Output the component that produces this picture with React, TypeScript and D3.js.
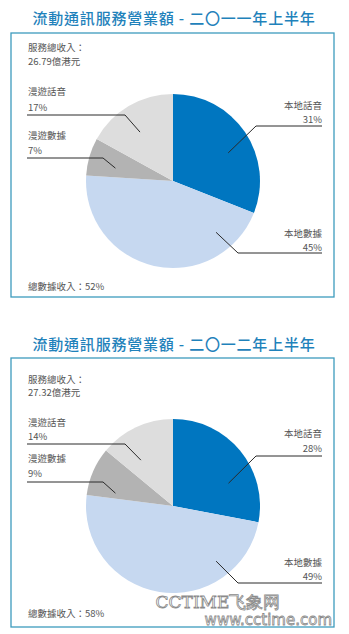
import React from 'react';
import * as d3 from 'd3';

const categories = ['本地話音', '本地數據', '漫遊數據', '漫遊話音'];
const share2011 = [31, 45, 7, 17];
const share2012 = [28, 49, 9, 14];
const titles = ['流動通訊服務營業額 - 二〇一一年上半年', '流動通訊服務營業額 - 二〇一二年上半年'];
const totalRevenue = ['26.79', '27.32'];
const dataShareTotal = [52, 58];
const colors = ['#0076c0', '#c6d8f0', '#b3b3b3', '#dddddd'];

type LabelLayout = { side: 'left' | 'right'; nameY: number; pctY: number; lineY: number; elbowX: number; ang: number; dist: number };
type PanelLayout = { titleY: number; boxTop: number; boxBottom: number; cy: number; incomeY: [number, number]; totalY: number; labels: LabelLayout[] };

const layouts: PanelLayout[] = [
  {
    titleY: 17, boxTop: 33, boxBottom: 297, cy: 181, incomeY: [47, 61], totalY: 286,
    labels: [
      { side: 'right', nameY: 105, pctY: 119, lineY: 126, elbowX: 256, ang: 63, dist: 62 },
      { side: 'right', nameY: 233, pctY: 247, lineY: 253, elbowX: 238, ang: 140, dist: 67 },
      { side: 'left', nameY: 135, pctY: 150, lineY: 158, elbowX: 103, ang: 282.6, dist: 59 },
      { side: 'left', nameY: 91, pctY: 107, lineY: 115, elbowX: 125, ang: 326, dist: 59 },
    ],
  },
  {
    titleY: 343, boxTop: 358, boxBottom: 627, cy: 506, incomeY: [379, 392], totalY: 613,
    labels: [
      { side: 'right', nameY: 433, pctY: 448, lineY: 456, elbowX: 256, ang: 67.7, dist: 60 },
      { side: 'right', nameY: 562, pctY: 576, lineY: 583, elbowX: 238, ang: 142, dist: 70 },
      { side: 'left', nameY: 458, pctY: 473, lineY: 482, elbowX: 103, ang: 282.6, dist: 59 },
      { side: 'left', nameY: 422, pctY: 436, lineY: 444, elbowX: 125, ang: 325, dist: 56 },
    ],
  },
];

const FONT = '"Noto Sans CJK TC", "Noto Sans", sans-serif';
const CX = 173;
const R = 87;
const TEXT_COLOR = '#555';

function Panel({ idx, values }: { idx: number; values: number[] }) {
  const L = layouts[idx];
  const pie = d3.pie<number>().sort(null).value((d) => d);
  const arcs = pie(values);
  const arc = d3.arc<d3.PieArcDatum<number>>().innerRadius(0).outerRadius(R);
  return (
    <g>
      <text x={174} y={L.titleY} textAnchor="middle" dominantBaseline="central" fill="#1f82bb"
        fontFamily={FONT} fontSize={15} fontWeight={500} letterSpacing={0.8}>{titles[idx]}</text>
      <rect x={11} y={L.boxTop} width={323} height={L.boxBottom - L.boxTop} fill="#fff" stroke="#3d9bbd" strokeWidth={1.3} />
      <text x={28} y={L.incomeY[0]} dominantBaseline="central" fill={TEXT_COLOR} fontFamily={FONT} fontSize={9.5}>服務總收入：</text>
      <text x={28} y={L.incomeY[1]} dominantBaseline="central" fill={TEXT_COLOR} fontFamily={FONT} fontSize={9.5}>{totalRevenue[idx]}億港元</text>
      <g transform={`translate(${CX},${L.cy})`}>
        {arcs.map((a, i) => (
          <path key={i} d={arc(a) || ''} fill={colors[i]} />
        ))}
      </g>
      {L.labels.map((lab, i) => {
        const [px, py] = d3.pointRadial((lab.ang * Math.PI) / 180, lab.dist);
        const ix = CX + px;
        const iy = L.cy + py;
        const right = lab.side === 'right';
        const tx = right ? 322 : 28;
        const endX = right ? 322 : 27;
        return (
          <g key={i}>
            <text x={tx} y={lab.nameY} textAnchor={right ? 'end' : 'start'} dominantBaseline="central" fill={TEXT_COLOR} fontFamily={FONT} fontSize={9.5}>{categories[i]}</text>
            <text x={tx} y={lab.pctY} textAnchor={right ? 'end' : 'start'} dominantBaseline="central" fill={TEXT_COLOR} fontFamily={FONT} fontSize={9.5}>{values[i]}%</text>
            <polyline points={`${endX},${lab.lineY} ${lab.elbowX},${lab.lineY} ${ix},${iy}`} fill="none" stroke="#2a2a2a" strokeWidth={1} />
          </g>
        );
      })}
      <text x={28} y={L.totalY} dominantBaseline="central" fill={TEXT_COLOR} fontFamily={FONT} fontSize={9.5}>總數據收入：{dataShareTotal[idx]}%</text>
    </g>
  );
}

export default function App() {
  return (
    <svg width={349} height={634} style={{ position: 'absolute', left: 0, top: 0, background: '#fff' }}>
      <rect x={0} y={0} width={349} height={634} fill="#fff" />
      <Panel idx={0} values={share2011} />
      <Panel idx={1} values={share2012} />
      <text x={218} y={602} textAnchor="middle" dominantBaseline="central" fill="#fff" stroke="#8a8a8a" strokeWidth={0.8}
        fontFamily={'"DejaVu Serif", serif'} fontSize={17}>CCTIME飞象网</text>
      <text x={332} y={620} textAnchor="end" dominantBaseline="central" fill="#fff" stroke="#8a8a8a" strokeWidth={0.8}
        fontFamily={'"DejaVu Sans", sans-serif'} fontSize={15}>www.cctime.com</text>
    </svg>
  );
}
